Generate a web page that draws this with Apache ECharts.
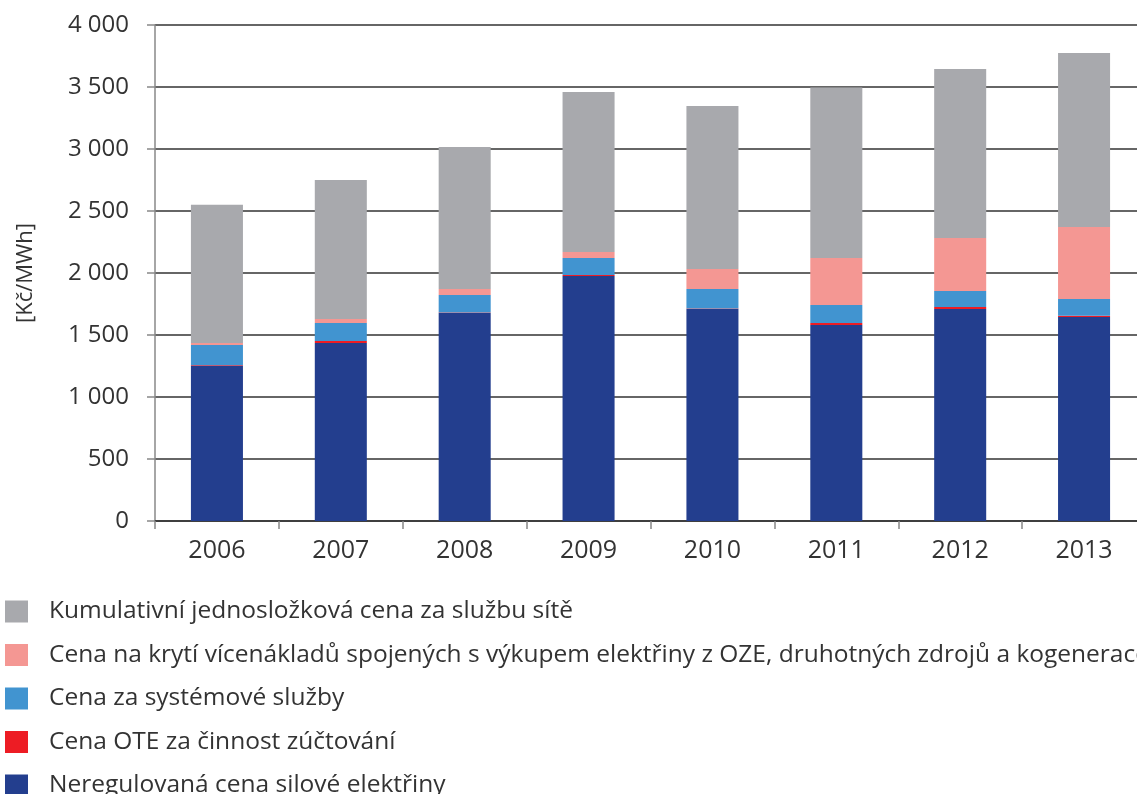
<!DOCTYPE html>
<html>
<head>
<meta charset="utf-8">
<title>Struktura ceny elektřiny</title>
<script src="https://cdn.jsdelivr.net/npm/echarts@6/dist/echarts.min.js"></script>
<style>
  html, body { margin: 0; padding: 0; background: #fff; overflow: hidden; }
  #chart { width: 1146px; height: 830px; }
</style>
</head>
<body>
<div id="chart"></div>
<script>
  // roky
  const years = ['2006', '2007', '2008', '2009', '2010', '2011', '2012', '2013']

  // hodnoty v Kč/MWh
  const silovaElektrina = [1255, 1436, 1677, 1976, 1710, 1581, 1710, 1645]
  const oteZuctovani = [4, 16, 4, 8, 4, 16, 16, 11]
  const systemoveSluzby = [160, 145, 142, 137, 157, 145, 129, 134]
  const podporaOze = [17, 32, 48, 48, 161, 379, 427, 581]
  const sluzbaSite = [1114, 1121, 1145, 1291, 1315, 1374, 1363, 1403]

  const yTicks = [0, 500, 1000, 1500, 2000, 2500, 3000, 3500, 4000]

  const names = {
    navy: 'Neregulovaná cena silové elektřiny',
    red: 'Cena OTE za činnost zúčtování',
    blue: 'Cena za systémové služby',
    pink: 'Cena na krytí vícenákladů spojených s výkupem elektřiny z OZE, druhotných zdrojů a kogenerace',
    gray: 'Kumulativní jednosložková cena za službu sítě'
  }

  const font = '"Open Sans", "DejaVu Sans", sans-serif'
  const textColor = '#333'

  function bar (name, data, color) {
    return {
      name,
      type: 'bar',
      stack: 'total',
      data,
      barCategoryGap: '58%',
      itemStyle: { color },
      emphasis: { disabled: true }
    }
  }

  // graf je o kousek širší než okno, poslední sloupec končí za pravým okrajem
  const chart = echarts.init(document.getElementById('chart'))
  chart.setOption({
    animation: false,
    textStyle: { fontFamily: font },
    grid: {
      left: 155,
      top: 25,
      right: 0,
      bottom: 309,
      containLabel: false
    },
    legend: {
      orient: 'vertical',
      left: 5,
      top: 599,
      icon: 'rect',
      itemWidth: 23,
      itemHeight: 22,
      itemGap: 18.5,
      padding: 0,
      selectedMode: false,
      textStyle: { fontSize: 24.5, color: textColor, fontFamily: font, padding: [0, 0, 0, 16] },
      data: [names.gray, names.pink, names.blue, names.red, names.navy]
    },
    xAxis: {
      type: 'category',
      data: years,
      axisLine: { lineStyle: { color: '#333', width: 1.5 } },
      axisTick: { show: true, length: 8, lineStyle: { color: '#888', width: 1.5 } },
      axisLabel: { fontSize: 25, color: textColor, margin: 17, fontFamily: font }
    },
    yAxis: {
      type: 'value',
      min: yTicks[0],
      max: yTicks[yTicks.length - 1],
      interval: 500,
      name: '[Kč/MWh]',
      nameLocation: 'middle',
      nameRotate: 90,
      nameGap: 118,
      nameTextStyle: { fontSize: 22, color: textColor, fontFamily: font },
      axisLine: { show: true, lineStyle: { color: '#888', width: 1.5 } },
      axisTick: { show: true, inside: false, length: 8, lineStyle: { color: '#888', width: 1.5 } },
      axisLabel: {
        fontSize: 24,
        color: textColor,
        margin: 26,
        fontFamily: font,
        formatter: v => String(v).replace(/\B(?=(\d{3})+(?!\d))/g, ' ')
      },
      splitLine: { lineStyle: { color: '#333', width: 1.5 } }
    },
    series: [
      bar(names.navy, silovaElektrina, '#233E8E'),
      bar(names.red, oteZuctovani, '#ED1C24'),
      bar(names.blue, systemoveSluzby, '#4194D0'),
      bar(names.pink, podporaOze, '#F49793'),
      bar(names.gray, sluzbaSite, '#A8A9AD')
    ]
  })
</script>
</body>
</html>
